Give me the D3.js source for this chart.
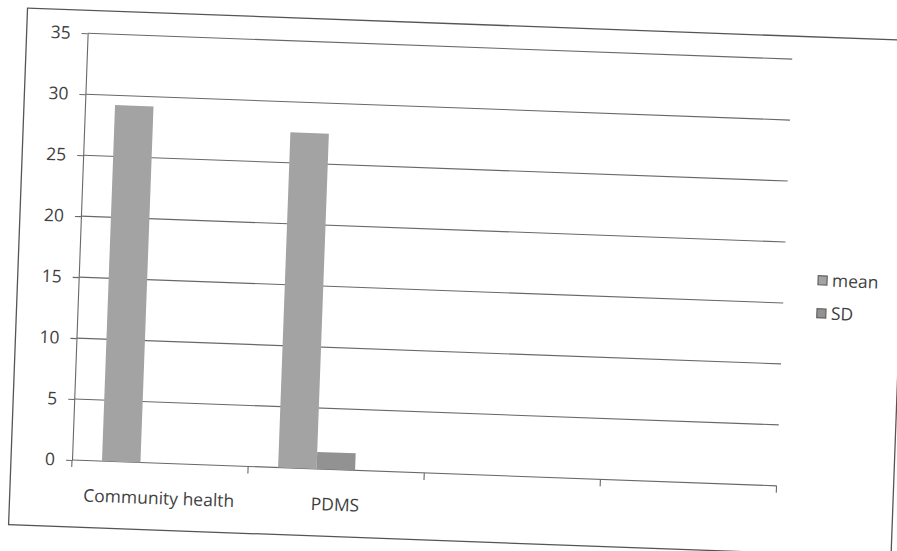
<!DOCTYPE html>
<html>
<head>
<meta charset="utf-8">
<script src="https://cdn.jsdelivr.net/npm/d3@7"></script>
<style>
  html, body { margin: 0; padding: 0; background: #ffffff; }
  svg { display: block; }
  text { font-family: "Open Sans", "Liberation Sans", sans-serif; fill: #3f3f3f; }
</style>
</head>
<body>
<svg id="chart" width="897" height="551"></svg>
<script>
// ---- data ----
const categories = ["Community health", "PDMS", "", " "];
const seriesNames = ["mean", "SD"];
const meanValues = [29.2, 27.5, null, null];
const sdValues = [0, 1.4, null, null];
const yTickValues = [0, 5, 10, 15, 20, 25, 30, 35];
const seriesColors = ["#a3a3a3", "#929292"];

// ---- layout ----
const W = 897, H = 551;
const origin = [72, 460];   // bottom-left of the plot (pivot of the scan tilt)
const tilt = 2.1;           // degrees, page is slightly rotated in the scan
const plotW = 705, plotH = 427;
const fontSize = 17.5;

const svg = d3.select("#chart");
svg.append("rect").attr("width", W).attr("height", H).attr("fill", "#ffffff");

const g = svg.append("g")
  .attr("transform", `rotate(${tilt} ${origin[0]} ${origin[1]}) translate(${origin[0]} ${origin[1]})`);

// chart frame
g.append("rect")
  .attr("x", -61).attr("y", -450)
  .attr("width", 883).attr("height", 517)
  .attr("fill", "none").attr("stroke", "#555555").attr("stroke-width", 1.3);

const x0 = d3.scaleBand().domain(categories).range([0, plotW]).padding(0);
const x1 = d3.scaleBand().domain(seriesNames).range([30, 107]).padding(0);
const y = d3.scaleLinear().domain([0, 35]).range([0, -plotH]);

// gridlines
g.append("g").selectAll("line")
  .data(yTickValues.filter(v => v > 0))
  .join("line")
  .attr("x1", 0).attr("x2", plotW)
  .attr("y1", d => y(d)).attr("y2", d => y(d))
  .attr("stroke", "#686868").attr("stroke-width", 1.1);

// y axis
const yAxis = d3.axisLeft(y).tickValues(yTickValues).tickSize(6).tickSizeOuter(0).tickPadding(11);
const ya = g.append("g").call(yAxis);
ya.select(".domain").attr("stroke", "#686868").attr("stroke-width", 1.1);
ya.selectAll(".tick line").attr("stroke", "#686868").attr("stroke-width", 1.1);
ya.selectAll(".tick text").attr("font-size", fontSize).attr("fill", "#3f3f3f")
  .style("font-family", '"Open Sans", sans-serif');

// x axis line and boundary ticks
g.append("line").attr("x1", 0).attr("x2", plotW).attr("y1", 0).attr("y2", 0)
  .attr("stroke", "#686868").attr("stroke-width", 1.1);
const bounds = categories.map(c => x0(c)).concat([x0.range()[1]]);
g.append("g").selectAll("line").data(bounds).join("line")
  .attr("x1", d => d).attr("x2", d => d).attr("y1", 0).attr("y2", 7)
  .attr("stroke", "#686868").attr("stroke-width", 1.1);

// category labels
g.append("g").selectAll("text").data(categories).join("text")
  .attr("x", d => x0(d) + x0.bandwidth() / 2)
  .attr("y", 35)
  .attr("dy", "0.35em")
  .attr("text-anchor", "middle")
  .attr("font-size", fontSize)
  .text(d => d.trim());

// bars
const seriesData = [meanValues, sdValues];
seriesNames.forEach((s, si) => {
  g.append("g").selectAll("rect")
    .data(categories.map((c, i) => ({ c, v: seriesData[si][i] })).filter(d => d.v != null && d.v > 0))
    .join("rect")
    .attr("x", d => x0(d.c) + x1(s))
    .attr("width", x1.bandwidth())
    .attr("y", d => y(d.v))
    .attr("height", d => y(0) - y(d.v))
    .attr("fill", seriesColors[si]);
});

// legend
const legend = g.append("g").attr("transform", "translate(739, -207)");
seriesNames.forEach((s, i) => {
  const row = legend.append("g").attr("transform", `translate(0, ${i * 33})`);
  row.append("rect").attr("x", 0).attr("y", -4.5).attr("width", 9).attr("height", 9)
    .attr("fill", seriesColors[i]).attr("stroke", "#626262").attr("stroke-width", 1.2);
  row.append("text").attr("x", 14).attr("y", 0).attr("dy", "0.35em")
    .attr("font-size", fontSize).text(s);
});
</script>
</body>
</html>
